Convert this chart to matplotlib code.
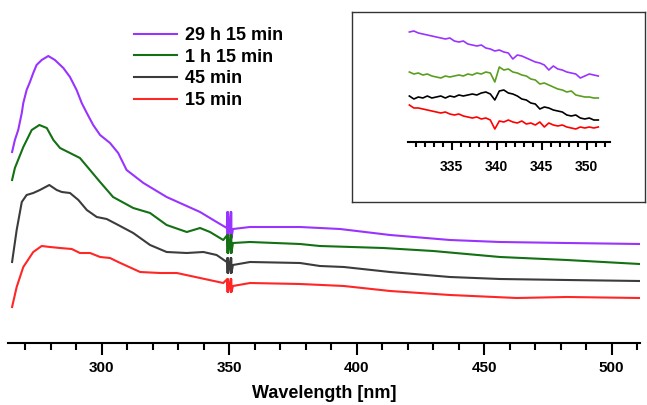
import numpy as np
import matplotlib.pyplot as plt
from matplotlib.ticker import MultipleLocator

plt.rcParams['font.family'] = ['Liberation Sans', 'DejaVu Sans']
plt.rcParams['font.weight'] = 'bold'

# main spectra (wavelength in nm, absorbance offset in a.u.)
wl_29h = [264.9, 266.0, 267.3, 268.7, 269.3, 270.6, 271.9, 273.2, 274.5, 276.5, 279.1, 281.7,
          285.0, 287.6, 290.2, 292.2, 294.2, 296.7, 299.4, 303.3, 306.5, 309.8, 316.4, 325.5,
          338.6, 345.1, 349.1, 349.3, 349.4, 349.5, 349.6, 350.6, 350.7, 350.8, 350.9, 351.5,
          358.2, 377.8, 393.5, 413.1, 436.6, 456.2, 482.4, 511.0]
ab_29h = [1.94, 2.06, 2.16, 2.33, 2.43, 2.56, 2.64, 2.73, 2.81, 2.86, 2.90, 2.86,
          2.78, 2.69, 2.56, 2.43, 2.33, 2.21, 2.11, 2.03, 1.93, 1.76, 1.63, 1.49,
          1.34, 1.24, 1.18, 1.34, 1.08, 1.34, 1.08, 1.34, 1.08, 1.34, 1.08, 1.17,
          1.19, 1.19, 1.17, 1.11, 1.06, 1.04, 1.03, 1.02]

wl_1h = [264.9, 266.0, 269.3, 272.6, 275.6, 278.5, 281.1, 283.7, 287.6, 291.5, 294.8, 299.4,
         304.5, 312.4, 319.0, 325.5, 333.4, 338.6, 342.5, 347.7, 349.3, 349.4, 349.5, 349.6,
         350.6, 350.7, 350.8, 350.9, 351.5, 358.2, 377.8, 385.6, 410.4, 430.0, 456.2, 482.4,
         511.0]
ab_1h = [1.66, 1.78, 1.99, 2.16, 2.21, 2.18, 2.06, 1.98, 1.93, 1.88, 1.78, 1.64,
         1.49, 1.38, 1.33, 1.21, 1.14, 1.18, 1.14, 1.06, 1.11, 0.93, 1.11, 0.93,
         1.11, 0.93, 1.11, 0.93, 1.03, 1.04, 1.02, 1.00, 0.98, 0.95, 0.89, 0.86,
         0.82]

wl_45 = [264.9, 266.7, 268.7, 270.6, 273.2, 275.8, 279.5, 282.4, 284.4, 287.6, 290.9, 294.2,
         298.1, 302.0, 306.5, 312.4, 319.0, 325.5, 333.4, 339.9, 345.1, 349.1, 349.3, 349.4,
         349.5, 349.6, 350.6, 350.7, 350.8, 350.9, 351.5, 358.2, 377.8, 385.6, 395.0, 413.1,
         436.6, 456.2, 482.4, 511.0]
ab_45 = [0.84, 1.16, 1.44, 1.51, 1.53, 1.56, 1.61, 1.56, 1.54, 1.53, 1.46, 1.36,
         1.29, 1.27, 1.21, 1.13, 1.01, 0.94, 0.93, 0.94, 0.91, 0.84, 0.88, 0.73,
         0.88, 0.73, 0.88, 0.73, 0.88, 0.73, 0.81, 0.84, 0.83, 0.80, 0.79, 0.74,
         0.69, 0.67, 0.66, 0.65]

wl_15 = [264.9, 266.7, 269.3, 273.2, 276.5, 279.8, 283.7, 288.3, 291.5, 295.5, 299.4, 303.3,
         306.5, 315.1, 322.9, 329.5, 338.6, 347.7, 349.3, 349.4, 349.5, 349.6, 350.6, 350.7,
         350.8, 350.9, 351.5, 358.2, 377.8, 395.0, 413.1, 436.6, 462.8, 482.4, 511.0]
ab_15 = [0.39, 0.59, 0.79, 0.94, 1.00, 0.99, 0.98, 0.97, 0.93, 0.93, 0.89, 0.88,
         0.84, 0.74, 0.73, 0.73, 0.68, 0.63, 0.67, 0.54, 0.67, 0.54, 0.67, 0.54,
         0.67, 0.54, 0.60, 0.63, 0.62, 0.60, 0.55, 0.51, 0.48, 0.49, 0.48]

# inset: zoom on 330-352 nm
wl_in = np.arange(330.3, 351.4, 0.5)
in_29h = [1.18, 1.19, 1.17, 1.16, 1.15, 1.14, 1.13, 1.12, 1.11, 1.12, 1.09, 1.08, 1.09, 1.06,
          1.05, 1.04, 1.05, 1.02, 1.01, 0.99, 1.00, 0.98, 0.97, 0.91, 0.95, 0.94, 0.92, 0.90,
          0.88, 0.87, 0.85, 0.80, 0.84, 0.81, 0.80, 0.78, 0.77, 0.76, 0.72, 0.74, 0.76, 0.75, 0.74]
in_1h = [0.78, 0.76, 0.77, 0.75, 0.76, 0.74, 0.73, 0.72, 0.74, 0.73, 0.74, 0.75, 0.74, 0.76,
         0.75, 0.77, 0.76, 0.78, 0.77, 0.68, 0.83, 0.80, 0.81, 0.78, 0.77, 0.75, 0.74, 0.71,
         0.70, 0.66, 0.67, 0.65, 0.63, 0.61, 0.60, 0.58, 0.59, 0.55, 0.54, 0.53, 0.53, 0.52, 0.52]
in_45 = [0.54, 0.51, 0.53, 0.52, 0.54, 0.52, 0.53, 0.54, 0.52, 0.54, 0.53, 0.55, 0.54, 0.55,
         0.56, 0.55, 0.57, 0.58, 0.56, 0.50, 0.59, 0.60, 0.57, 0.56, 0.54, 0.51, 0.50, 0.47,
         0.46, 0.41, 0.43, 0.42, 0.40, 0.39, 0.38, 0.35, 0.34, 0.35, 0.32, 0.31, 0.32, 0.30, 0.30]
in_15 = [0.45, 0.42, 0.42, 0.41, 0.40, 0.39, 0.38, 0.37, 0.38, 0.36, 0.35, 0.36, 0.34, 0.33,
         0.32, 0.33, 0.31, 0.32, 0.30, 0.21, 0.29, 0.28, 0.30, 0.28, 0.27, 0.29, 0.26, 0.27,
         0.25, 0.28, 0.23, 0.27, 0.25, 0.24, 0.25, 0.23, 0.22, 0.21, 0.23, 0.22, 0.23, 0.22, 0.23]

labels = ['29 h 15 min', '1 h 15 min', '45 min', '15 min']
main_colors = ['#9933ff', '#137013', '#3c3c3c', '#ff2626']
inset_colors = ['#9933ff', '#5a9e1e', '#000000', '#ff0000']

W, H = 647, 405
fig = plt.figure(figsize=(6.47, 4.05), dpi=100)

ax = fig.add_axes([8 / W, (H - 343.3) / H, 632 / W, 333.3 / H])
for wl, ab, c, lab in zip([wl_29h, wl_1h, wl_45, wl_15], [ab_29h, ab_1h, ab_45, ab_15],
                          main_colors, labels):
    ax.plot(wl, ab, color=c, lw=1.5, label=lab)
ax.set_xlim(263.3, 511.1)
ax.set_ylim(0.027, 3.36)
for s in ['left', 'right', 'top']:
    ax.spines[s].set_visible(False)
ax.spines['bottom'].set_linewidth(1.5)
ax.set_yticks([])
ax.xaxis.set_major_locator(MultipleLocator(50))
ax.xaxis.set_minor_locator(MultipleLocator(10))
ax.tick_params(axis='x', which='major', length=8.6, width=1.5, labelsize=11, pad=4)
ax.tick_params(axis='x', which='minor', length=5, width=1.5)
ax.set_xlabel('Wavelength [nm]', fontsize=13, fontweight='bold', labelpad=7)

ax.legend(loc='upper left', bbox_to_anchor=(134 / W, 1 - 27 / H), bbox_transform=fig.transFigure,
          frameon=False, fontsize=13, handlelength=2.4, handletextpad=0.45,
          labelspacing=0.26, borderaxespad=0, borderpad=0)

# inset frame
box = fig.add_axes([351.7 / W, (H - 201.7) / H, 293.3 / W, 189.4 / H])
box.set_xticks([])
box.set_yticks([])
for s in box.spines.values():
    s.set_linewidth(1.0)
    s.set_color('#333333')

ins = fig.add_axes([408 / W, (H - 141.7) / H, 202 / W, 121.7 / H])
for vals, c in zip([in_29h, in_1h, in_45, in_15], inset_colors):
    ins.plot(wl_in, vals, color=c, lw=1.2)
ins.set_xlim(330.15, 352.6)
ins.set_ylim(0.083, 1.30)
ins.patch.set_visible(False)
for s in ['left', 'right', 'top']:
    ins.spines[s].set_visible(False)
ins.spines['bottom'].set_linewidth(1.5)
ins.set_yticks([])
ins.xaxis.set_major_locator(MultipleLocator(5))
ins.xaxis.set_minor_locator(MultipleLocator(1))
ins.tick_params(axis='x', which='major', length=6, width=1.5, labelsize=10, pad=7)
ins.tick_params(axis='x', which='minor', length=3.6, width=1.5)

fig.savefig('out.png', dpi=100)
